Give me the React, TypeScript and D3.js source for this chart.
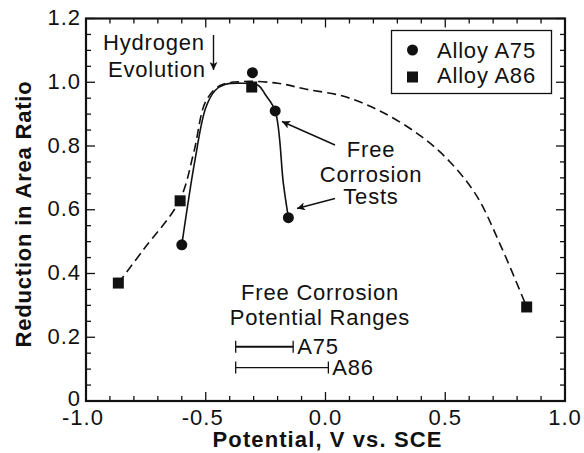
import React, { useEffect, useRef } from "react";
import * as d3 from "d3";

// Measured specimens: potential (V vs. SCE) and reduction-in-area ratio
const a75Potential = [-0.6, -0.305, -0.21, -0.155];
const a75Ratio = [0.49, 1.03, 0.91, 0.575];
const a86Potential = [-0.865, -0.607, -0.308, 0.84];
const a86Ratio = [0.37, 0.628, 0.985, 0.295];

// Hand-drawn trend curves through the data
const a75TrendX = [-0.6, -0.545, -0.5, -0.46, -0.42, -0.35, -0.28, -0.25, -0.21, -0.176, -0.155];
const a75TrendY = [0.49, 0.756, 0.92, 0.975, 0.993, 0.997, 0.99, 0.96, 0.91, 0.683, 0.575];
const a86TrendX = [-0.865, -0.76, -0.61, -0.55, -0.5, -0.44, -0.35, -0.2, -0.08, 0.08, 0.24, 0.4, 0.52, 0.63, 0.73, 0.84];
const a86TrendY = [0.37, 0.475, 0.628, 0.78, 0.94, 0.99, 1.002, 0.997, 0.978, 0.955, 0.905, 0.83, 0.75, 0.645, 0.49, 0.295];

// Free corrosion potential ranges [start, end] and the ratio level they are drawn at
const rangeNames = ["A75", "A86"];
const rangeStart = [-0.375, -0.375];
const rangeEnd = [-0.135, 0.012];
const rangeLevel = [0.17, 0.105];

const xTickLabels = ["-1.0", "-0.5", "0.0", "0.5", "1.0"];
const xTickValues = [-1, -0.5, 0, 0.5, 1];
const yTickLabels = ["0", "0.2", "0.4", "0.6", "0.8", "1.0", "1.2"];
const yTickValues = [0, 0.2, 0.4, 0.6, 0.8, 1.0, 1.2];

const W = 584;
const H = 453;
const FONT = "'Liberation Sans', Arial, Helvetica, sans-serif";
const LS = 0.8;

export default function App() {
  const ref = useRef<SVGSVGElement | null>(null);

  useEffect(() => {
    const svg = d3.select(ref.current);
    svg.selectAll("*").remove();

    const left = 86, right = 565, top = 18.5, bottom = 401;
    const x = d3.scaleLinear().domain([-1, 1]).range([left, right]);
    const y = d3.scaleLinear().domain([0, 1.2]).range([bottom, top]);
    const ink = "#111";

    const defs = svg.append("defs");
    defs.append("marker")
      .attr("id", "arrowhead")
      .attr("viewBox", "0 0 10 10")
      .attr("refX", 10).attr("refY", 5)
      .attr("markerWidth", 10).attr("markerHeight", 8)
      .attr("markerUnits", "userSpaceOnUse")
      .attr("orient", "auto")
      .append("path").attr("d", "M0,0 L10,5 L0,10 L2.5,5 Z").attr("fill", ink);

    // ticks (inward, on all four sides)
    const g = svg.append("g").attr("stroke", ink).attr("stroke-width", 1.3);
    const xMinor = d3.range(-1, 1.0001, 0.1);
    xMinor.forEach((v) => {
      const major = Math.abs(v * 2 - Math.round(v * 2)) < 1e-6;
      const len = major ? 9 : 5;
      g.append("line").attr("x1", x(v)).attr("x2", x(v)).attr("y1", bottom).attr("y2", bottom - len);
      g.append("line").attr("x1", x(v)).attr("x2", x(v)).attr("y1", top).attr("y2", top + len);
    });
    const yMinor = d3.range(0, 1.2001, 0.05);
    yMinor.forEach((v) => {
      const major = Math.abs(v * 5 - Math.round(v * 5)) < 1e-6;
      const len = major ? 9 : 5;
      g.append("line").attr("x1", left).attr("x2", left + len).attr("y1", y(v)).attr("y2", y(v));
      g.append("line").attr("x1", right).attr("x2", right - len).attr("y1", y(v)).attr("y2", y(v));
    });

    // frame
    svg.append("rect")
      .attr("x", left).attr("y", top)
      .attr("width", right - left).attr("height", bottom - top)
      .attr("fill", "none").attr("stroke", ink).attr("stroke-width", 2.2);

    // tick labels
    const txt = svg.append("g").attr("font-family", FONT).attr("fill", ink).attr("letter-spacing", LS);
    xTickValues.forEach((v, i) => {
      txt.append("text").attr("x", x(v) - (v < 0 ? 3 : 0)).attr("y", 425)
        .attr("text-anchor", "middle").attr("font-size", 22).attr("letter-spacing", 1).text(xTickLabels[i]);
    });
    yTickValues.forEach((v, i) => {
      txt.append("text").attr("x", 81).attr("y", y(v) + (v === 0 ? 4.5 : 6.5))
        .attr("text-anchor", "end").attr("font-size", 22).attr("letter-spacing", 1).text(yTickLabels[i]);
    });

    // axis titles
    txt.append("text").attr("x", 327.5).attr("y", 447)
      .attr("text-anchor", "middle").attr("font-size", 22).attr("font-weight", "bold")
      .attr("letter-spacing", 1.1)
      .text("Potential, V vs. SCE");
    txt.append("text")
      .attr("transform", `translate(31, 214) rotate(-90)`)
      .attr("text-anchor", "middle").attr("font-size", 22).attr("font-weight", "bold")
      .attr("letter-spacing", 0.8)
      .text("Reduction in Area Ratio");

    // trend curves
    const line = d3.line<[number, number]>()
      .x((d) => x(d[0])).y((d) => y(d[1]))
      .curve(d3.curveCatmullRom.alpha(0.5));
    svg.append("path")
      .attr("d", line(a86TrendX.map((v, i) => [v, a86TrendY[i]]) as [number, number][]))
      .attr("fill", "none").attr("stroke", ink).attr("stroke-width", 1.6)
      .attr("stroke-dasharray", "9,5");
    svg.append("path")
      .attr("d", line(a75TrendX.map((v, i) => [v, a75TrendY[i]]) as [number, number][]))
      .attr("fill", "none").attr("stroke", ink).attr("stroke-width", 1.6);

    // markers
    a75Potential.forEach((v, i) => {
      svg.append("circle").attr("cx", x(v)).attr("cy", y(a75Ratio[i])).attr("r", 5.5).attr("fill", ink);
    });
    a86Potential.forEach((v, i) => {
      svg.append("rect").attr("x", x(v) - 5.5).attr("y", y(a86Ratio[i]) - 5.5)
        .attr("width", 11).attr("height", 11).attr("fill", ink);
    });

    // legend
    const lg = svg.append("g");
    lg.append("rect").attr("x", 391.5).attr("y", 30.5).attr("width", 160).attr("height", 63)
      .attr("fill", "#fff").attr("stroke", ink).attr("stroke-width", 1.3);
    lg.append("circle").attr("cx", 412.5).attr("cy", 50).attr("r", 5.5).attr("fill", ink);
    lg.append("rect").attr("x", 407).attr("y", 71.5).attr("width", 11).attr("height", 11).attr("fill", ink);
    lg.append("text").attr("x", 437).attr("y", 57.5).attr("font-family", FONT).attr("font-size", 22)
      .attr("letter-spacing", LS).attr("fill", ink).text("Alloy A75");
    lg.append("text").attr("x", 437).attr("y", 82.5).attr("font-family", FONT).attr("font-size", 22)
      .attr("letter-spacing", LS).attr("fill", ink).text("Alloy A86");

    // free corrosion potential ranges
    const rg = svg.append("g").attr("stroke", ink);
    rangeNames.forEach((name, i) => {
      const yy = y(rangeLevel[i]);
      const sw = i === 0 ? 2 : 1.2;
      rg.append("line").attr("x1", x(rangeStart[i])).attr("x2", x(rangeEnd[i]))
        .attr("y1", yy).attr("y2", yy).attr("stroke-width", sw);
      [rangeStart[i], rangeEnd[i]].forEach((e) => {
        rg.append("line").attr("x1", x(e)).attr("x2", x(e))
          .attr("y1", yy - 6).attr("y2", yy + 6).attr("stroke-width", 1.3);
      });
      txt.append("text").attr("x", x(rangeEnd[i]) + 4).attr("y", yy + 7.5)
        .attr("font-size", 22).text(name);
    });
    txt.append("text").attr("x", 320).attr("y", 300).attr("text-anchor", "middle")
      .attr("font-size", 22).text("Free Corrosion");
    txt.append("text").attr("x", 320).attr("y", 325).attr("text-anchor", "middle")
      .attr("font-size", 22).text("Potential Ranges");

    // annotations
    txt.append("text").attr("x", 103).attr("y", 50).attr("font-size", 22).text("Hydrogen");
    txt.append("text").attr("x", 108).attr("y", 76.5).attr("font-size", 22).text("Evolution");
    svg.append("line").attr("x1", 213.5).attr("y1", 35).attr("x2", 213.5).attr("y2", 70)
      .attr("stroke", ink).attr("stroke-width", 1.4).attr("marker-end", "url(#arrowhead)");

    txt.append("text").attr("x", 371).attr("y", 157).attr("text-anchor", "middle")
      .attr("font-size", 22).text("Free");
    txt.append("text").attr("x", 371).attr("y", 182).attr("text-anchor", "middle")
      .attr("font-size", 22).text("Corrosion");
    txt.append("text").attr("x", 371).attr("y", 204).attr("text-anchor", "middle")
      .attr("font-size", 22).text("Tests");
    svg.append("line").attr("x1", 335).attr("y1", 145).attr("x2", 282).attr("y2", 121.5)
      .attr("stroke", ink).attr("stroke-width", 1.4).attr("marker-end", "url(#arrowhead)");
    svg.append("line").attr("x1", 335).attr("y1", 198.5).attr("x2", 297).attr("y2", 208.5)
      .attr("stroke", ink).attr("stroke-width", 1.4).attr("marker-end", "url(#arrowhead)");
  }, []);

  return (
    <svg
      ref={ref}
      width={W}
      height={H}
      style={{ position: "absolute", left: 0, top: 0, background: "#fff", display: "block" }}
    />
  );
}
